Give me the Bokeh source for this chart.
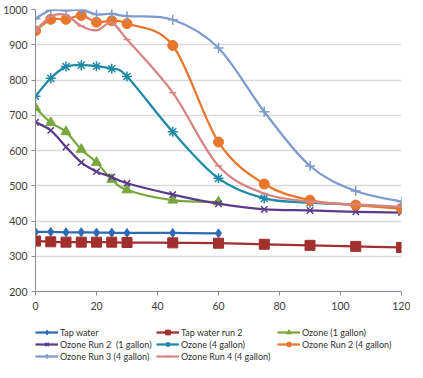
from bokeh.plotting import figure
from bokeh.layouts import column
from bokeh.models import Range1d, FixedTicker, Legend, LegendItem, ColumnDataSource
from bokeh.embed import file_html
from bokeh.resources import INLINE

# ---- data ----
times = [0, 5, 10, 15, 20, 25, 30, 45, 60, 75, 90, 105, 120]
tap_water = [369, 369, 368, 368, 367, 367, 366, 366, 365]
tap_water_run2 = [343, 341, 340, 340, 340, 340, 339, 338, 337, 334, 331, 328, 325]
ozone_1gal = [721, 679, 653, 603, 566, 518, 488, 459, 454]
ozone_run2_1gal = [680, 657, 610, 566, 540, 525, 507, 475, 449, 433, 430, 426, 424]
ozone_4gal = [754, 805, 838, 842, 839, 832, 810, 653, 521, 464, 452, 446, 438]
ozone_run2_4gal = [939, 972, 972, 983, 964, 968, 960, 898, 624, 505, 459, 445, 435]
ozone_run3_4gal = [974, 998, 997, 999, 986, 988, 981, 971, 891, 710, 556, 485, 455]
ozone_run4_4gal = [940, 980, 984, 953, 941, 962, 915, 764, 556, 478, 455, 447, 440]

labels = ["Tap water", "Tap water run 2", "Ozone (1 gallon)",
          "Ozone Run 2  (1 gallon)", "Ozone (4 gallon)", "Ozone Run 2 (4 gallon)",
          "Ozone Run 3 (4 gallon)", "Ozone Run 4 (4 gallon)"]
series = [tap_water, tap_water_run2, ozone_1gal, ozone_run2_1gal,
          ozone_4gal, ozone_run2_4gal, ozone_run3_4gal, ozone_run4_4gal]

colors = ["#2F6AB5", "#A12F2E", "#79A73C", "#5B3C8C", "#1F8AA6", "#E8762D", "#7D9BCC", "#D68582"]
markers = ["diamond", "square", "triangle", "x", "asterisk", "circle", "cross", "dash"]
msizes = [9, 10, 10, 9, 10, 10, 10, 7]

p = figure(width=407, height=315, output_backend="svg", toolbar_location=None,
           x_range=Range1d(0, 120), y_range=Range1d(200, 1000),
           frame_width=366, frame_height=282,
           min_border_left=32, min_border_right=9, min_border_top=9, min_border_bottom=24)
p.outline_line_color = None
p.background_fill_color = "white"
p.border_fill_color = "white"

p.xgrid.grid_line_color = None
p.ygrid.grid_line_color = "#D9D9D9"
p.ygrid.grid_line_width = 1.5

for ax in (p.xaxis[0], p.yaxis[0]):
    ax.axis_line_color = "#8C8C8C"
    ax.major_tick_line_color = "#8C8C8C"
    ax.major_tick_in = 0
    ax.major_tick_out = 4
    ax.minor_tick_line_color = None
    ax.major_label_text_font = "Lato"
    ax.major_label_text_font_size = "10.5px"
    ax.major_label_text_color = "#404040"
p.xaxis.ticker = FixedTicker(ticks=[0, 20, 40, 60, 80, 100, 120])
p.yaxis.ticker = FixedTicker(ticks=[200, 300, 400, 500, 600, 700, 800, 900, 1000])
p.yaxis.major_label_standoff = 4
p.xaxis.major_label_standoff = 6

# separate strip for the legend (below the chart)
lf = figure(width=407, height=47, output_backend="svg", toolbar_location=None,
            x_range=Range1d(0, 1), y_range=Range1d(0, 1),
            x_axis_type=None, y_axis_type=None, min_border=0)
lf.outline_line_color = None
lf.background_fill_color = "white"
lf.border_fill_color = "white"


def smooth_segments(xs, ys):
    n = len(xs)
    x0, y0, x1, y1, cx0, cy0, cx1, cy1 = [], [], [], [], [], [], [], []
    for i in range(n - 1):
        im1 = max(i - 1, 0)
        ip2 = min(i + 2, n - 1)
        x0.append(xs[i]); y0.append(ys[i])
        x1.append(xs[i + 1]); y1.append(ys[i + 1])
        cx0.append(xs[i] + (xs[i + 1] - xs[im1]) / 6.0)
        cy0.append(ys[i] + (ys[i + 1] - ys[im1]) / 6.0)
        cx1.append(xs[i + 1] - (xs[ip2] - xs[i]) / 6.0)
        cy1.append(ys[i + 1] - (ys[ip2] - ys[i]) / 6.0)
    return dict(x0=x0, y0=y0, x1=x1, y1=y1, cx0=cx0, cy0=cy0, cx1=cx1, cy1=cy1)


items = []
for lab, ys, col, mk, ms in zip(labels, series, colors, markers, msizes):
    xs = times[:len(ys)]
    src = ColumnDataSource(smooth_segments(xs, ys))
    p.bezier(x0="x0", y0="y0", x1="x1", y1="y1", cx0="cx0", cy0="cy0",
             cx1="cx1", cy1="cy1", source=src, line_color=col, line_width=2.25)
    lw = 1.5 if mk in ("x", "asterisk", "cross", "dash") else 1
    p.scatter(xs, ys, marker=mk, size=ms, line_color=col, line_width=lw, fill_color=col)
    # legend samples in the legend strip (their single points fall outside its range)
    lr = lf.line(x=xs[:1], y=ys[:1], line_color=col, line_width=2.25)
    sr = lf.scatter(x=xs[:1], y=ys[:1], marker=mk, size=ms - 2, line_color=col,
                    line_width=lw, fill_color=col)
    items.append(LegendItem(label=lab, renderers=[lr, sr]))

# column-major flow: reorder so rows read left-to-right like the reference
order = [0, 3, 6, 1, 4, 7, 2, 5]
legend = Legend(items=[items[i] for i in order], location=(0, 0),
                orientation="vertical", nrows=3,
                padding=0, margin=0, spacing=0, glyph_width=23, glyph_height=12,
                label_height=12, label_width=96, label_standoff=2,
                label_text_font="Lato", label_text_font_size="9px",
                label_text_color="#303030", border_line_color=None,
                background_fill_alpha=0)
lf.add_layout(legend, "center")

open("out.html", "w").write(file_html(column(p, lf, spacing=0), INLINE))
